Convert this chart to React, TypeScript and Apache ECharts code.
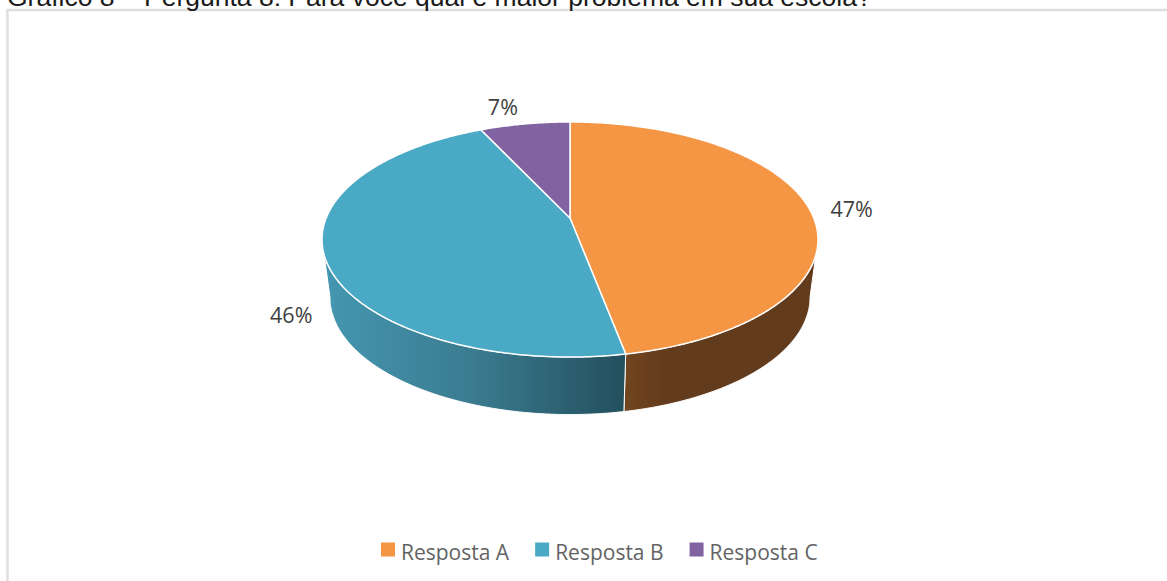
import React, { useEffect, useRef } from "react";
import * as echarts from "echarts";

const categories = ["Resposta A", "Resposta B", "Resposta C"];
const shares = [47, 46, 7];
const topColors = ["#F59645", "#4AA9C4", "#8063A0"];
const titleText = "Gráfico 8 – Pergunta 8: Para você qual é maior problema em sua escola?";

// Wall shading for the slices that face the viewer.
const wallStops = [
  [[0, "#71461F"], [0.22, "#633B1D"], [1, "#623A1C"]],
  [[0, "#4597B1"], [0.5, "#3A7B90"], [1, "#234F5D"]],
  [[0, "#5A4270"], [1, "#44325A"]],
];

// Perspective projection of the disc onto the page.
const APEX_X = 570;
const APEX_Y = 218;
const SCALE_X = 243.8;
const SCALE_Y = 113.6;
const TILT = 0.183;
const WALL_DROP = 57.5;
const WALL_SHRINK = 0.968;
const LABEL_SHIFT = [[43, 1], [-33, 59], [-22, -17]];

const rad = (deg: number) => (deg * Math.PI) / 180;

function project(deg: number, floor: boolean): number[] {
  const u = Math.sin(rad(deg));
  const v = -Math.cos(rad(deg));
  const w = 1 - TILT * v;
  const sx = floor ? SCALE_X * WALL_SHRINK : SCALE_X;
  return [APEX_X + (sx * u) / w, APEX_Y + (floor ? WALL_DROP : 0) + (SCALE_Y * v) / w];
}

function rim(from: number, to: number, floor: boolean): number[][] {
  const steps = Math.max(2, Math.ceil(Math.abs(to - from) * 2));
  const pts: number[][] = [];
  for (let i = 0; i <= steps; i++) pts.push(project(from + ((to - from) * i) / steps, floor));
  return pts;
}

const total = shares.reduce((a, b) => a + b, 0);
const startAngles = shares.map((_, i) => (shares.slice(0, i).reduce((a, b) => a + b, 0) / total) * 360);
// Rim angles where the wall silhouette meets the top face.
const wallFrom = (Math.acos(-TILT) * 180) / Math.PI;
const wallTo = 360 - wallFrom;

function makeSeries(i: number) {
  return {
    type: "custom",
    name: categories[i],
    coordinateSystem: "none",
    itemStyle: { color: topColors[i] },
    silent: true,
    data: [[shares[i]]],
    renderItem: (_params: unknown, api: any) => {
      const sweep = (api.value(0) / total) * 360;
      const a0 = startAngles[i];
      const a1 = a0 + sweep;
      const mid = (a0 + a1) / 2;
      const children: any[] = [];
      const w0 = Math.max(a0, wallFrom);
      const w1 = Math.min(a1, wallTo);
      if (w1 > w0) {
        children.push({
          type: "polygon",
          shape: { points: [...rim(w0, w1, false), ...rim(w1, w0, true)] },
          style: {
            fill: {
              type: "linear",
              x: 0,
              y: 0,
              x2: 1,
              y2: 0,
              colorStops: wallStops[i].map(([offset, color]) => ({ offset, color })),
            },
            stroke: "#FFFFFF",
            lineWidth: 1,
            lineJoin: "round",
          },
        });
      }
      children.push({
        type: "polygon",
        shape: { points: [[APEX_X, APEX_Y], ...rim(a0, a1, false)] },
        style: { fill: topColors[i], stroke: "#FFFFFF", lineWidth: 1.5, lineJoin: "round" },
      });
      const edge = project(mid, false);
      children.push({
        type: "text",
        x: edge[0] + LABEL_SHIFT[i][0],
        y: edge[1] + LABEL_SHIFT[i][1],
        style: {
          text: `${api.value(0)}%`,
          fill: "#404040",
          font: '21.5px "Open Sans"',
          align: "center",
          verticalAlign: "middle",
        },
      });
      return { type: "group", children };
    },
  };
}

export default function App() {
  const ref = useRef<HTMLDivElement>(null);
  useEffect(() => {
    document.body.style.margin = "0";
    document.body.style.overflow = "hidden";
    const chart = echarts.init(ref.current!, undefined, { renderer: "svg" });
    chart.setOption({
      animation: false,
      backgroundColor: "#FFFFFF",
      color: topColors,
      legend: {
        data: categories,
        left: 381,
        top: 541,
        icon: "rect",
        itemWidth: 14,
        itemHeight: 14,
        itemGap: 26,
        padding: 0,
        selectedMode: false,
        formatter: "{t|{name}}",
        textStyle: {
          rich: {
            t: { color: "#636363", fontFamily: "Open Sans", fontSize: 21, padding: [4, 0, 0, 1] },
          },
        },
      },
      graphic: [
        {
          type: "polyline",
          shape: { points: [[7.5, 581], [7.5, 10], [1167, 10]] },
          style: { fill: "none", stroke: "#DEDEDE", lineWidth: 2.5 },
        },
        {
          type: "text",
          x: 7,
          y: -3.5,
          style: {
            text: titleText,
            fill: "#1A1A1A",
            font: '26.5px "Liberation Sans"',
            verticalAlign: "middle",
          },
        },
      ],
      series: categories.map((_, i) => makeSeries(i)),
    });
    return () => chart.dispose();
  }, []);
  return <div ref={ref} style={{ position: "absolute", left: 0, top: 0, width: 1167, height: 581 }} />;
}
